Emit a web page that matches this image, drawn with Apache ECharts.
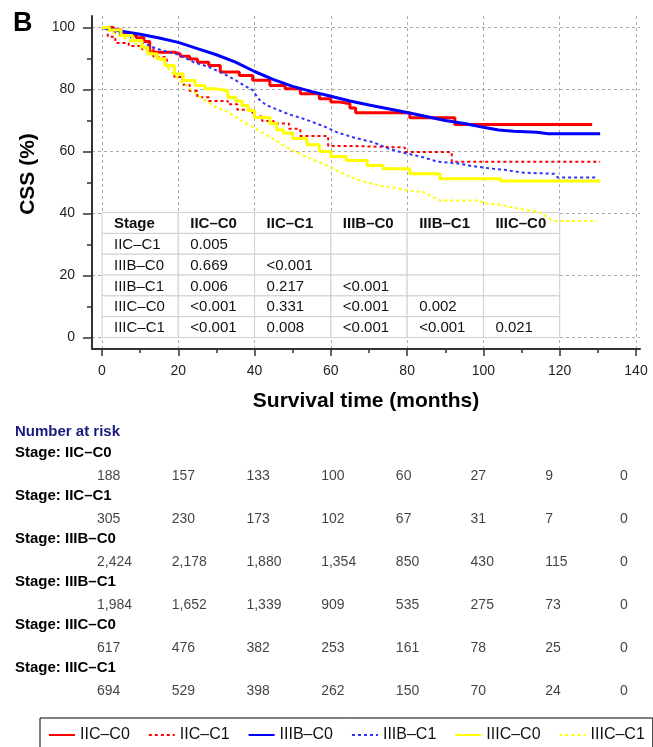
<!DOCTYPE html>
<html>
<head>
<meta charset="utf-8">
<script src="https://cdn.jsdelivr.net/npm/echarts@6/dist/echarts.min.js"></script>
<style>
  html, body { margin: 0; padding: 0; background: #fff; }
  #chart { width: 653px; height: 747px; }
</style>
</head>
<body>
<div id="chart"></div>
<script>
// ---- data ----
const stageNames = ['IIC–C0', 'IIC–C1', 'IIIB–C0', 'IIIB–C1', 'IIIC–C0', 'IIIC–C1']

// Kaplan-Meier curves, [months, CSS %]
const iicC0 = [[0,100],[3,99.3],[5,98.4],[7,97.5],[9,96.7],[11,95.5],[12.5,92],[19,91.5],[20.5,90.7],[23,89.8],[25,88.8],[28,87.7],[31,85.6],[36,84.5],[39.5,83],[44,81.3],[48,80.2],[52,78.6],[57,77],[60,76],[62,75.4],[65,74],[66.5,72.5],[80.7,70.9],[92.5,68.7],[128.5,68.7]]
const iicC1 = [[0,100],[1.5,97],[3.5,95],[7,94],[10.5,93],[13.5,90.5],[17,87.5],[19,84],[21,81.5],[23,79.5],[25,77.5],[28,76.3],[33,75.2],[35.5,73.5],[39.5,71.3],[42,69.8],[45,69],[49,67.3],[52,65],[59.3,61.8],[65,61.3],[79.4,59.8],[91.7,56.7],[130.6,56.7]]
const iiibC0 = [[0,100],[5,98.8],[10,97.8],[15,96.6],[20,95.2],[25,93.2],[30,91.2],[35,88.8],[40,85.8],[45,83.2],[50,81],[55,79.3],[60,77.8],[65,76.3],[70,75],[75,73.8],[80,72.6],[85,71.3],[90,70],[95,69],[100,67.8],[104,66.9],[108,66.5],[114,66.2],[117,65.7],[130.6,65.7]]
const iiibC1 = [[0,100],[3,98.5],[7,97],[10,95.5],[13,93.8],[16,92.5],[20,91.3],[24,88.8],[28,87.3],[32,85],[35,83],[37,81.5],[39.5,79.8],[41,77],[43,75],[45,74],[49,72],[53,70.5],[58,68.2],[62,66],[66,64.5],[71,63],[75,61],[78,59.9],[84,58.2],[88,56.7],[93,56.2],[97,55.3],[102,54.5],[106,54],[110,53.2],[118.5,52.8],[119.5,51.6],[129.7,51.6]]
const iiicC0 = [[0,100],[2,99.2],[5,97.4],[8,95.8],[10.5,93.6],[12,91.5],[14.5,89.9],[16.5,87.7],[19,85],[21.3,82.9],[24.4,81.3],[27,80.2],[30,79.6],[33,77.5],[35,76.3],[36.7,74.8],[38.3,73.2],[40,71],[44,69],[45.8,67],[47.5,66],[50,64.2],[53.7,62.2],[57,60],[60,58.4],[64,57.1],[69.5,55.5],[73.7,54.4],[80.7,52.8],[88.6,51.2],[104.5,50.5],[130.6,50.5]]
const iiicC1 = [[0,100],[3.4,98],[7,96],[11.3,93.1],[15.6,89.4],[19.1,84.5],[22.5,80.8],[26,77.3],[30,74.2],[33,72.8],[36.5,70],[40,67.5],[44.6,64.2],[49.5,60.6],[53.7,58.2],[58,56],[60.6,54.4],[64.2,52.3],[67.6,50.6],[72.9,49],[78,48],[80,47.4],[84.3,46.9],[88.6,44.2],[99,44.2],[100,43.3],[104,42.9],[109.6,41.5],[114.8,40.4],[118.3,37.6],[129.7,37.6]]

// axis ticks
const xTicks = [0, 20, 40, 60, 80, 100, 120, 140]
const xMinorTicks = [10, 30, 50, 70, 90, 110, 130]
const yTicks = [0, 20, 40, 60, 80, 100]
const yMinorTicks = [10, 30, 50, 70, 90]

// pairwise p-value table
const tableHeader = ['Stage', 'IIC–C0', 'IIC–C1', 'IIIB–C0', 'IIIB–C1', 'IIIC–C0']
const tableRows = ['IIC–C1', 'IIIB–C0', 'IIIB–C1', 'IIIC–C0', 'IIIC–C1']
const pValues = [
  ['0.005', '', '', '', ''],
  ['0.669', '<0.001', '', '', ''],
  ['0.006', '0.217', '<0.001', '', ''],
  ['<0.001', '0.331', '<0.001', '0.002', ''],
  ['<0.001', '0.008', '<0.001', '<0.001', '0.021']
]
const tableCols = [0, 20, 40, 60, 80, 100, 120]

// number at risk
const riskTimes = [0, 20, 40, 60, 80, 100, 120, 140]
const riskIicC0 = [188, 157, 133, 100, 60, 27, 9, 0]
const riskIicC1 = [305, 230, 173, 102, 67, 31, 7, 0]
const riskIiibC0 = [2424, 2178, 1880, 1354, 850, 430, 115, 0]
const riskIiibC1 = [1984, 1652, 1339, 909, 535, 275, 73, 0]
const riskIiicC0 = [617, 476, 382, 253, 161, 78, 25, 0]
const riskIiicC1 = [694, 529, 398, 262, 150, 70, 24, 0]

// ---- chart ----
const FONT = '"Liberation Sans", Arial, sans-serif'
const chart = echarts.init(document.getElementById('chart'))

const curves = [iicC0, iicC1, iiibC0, iiibC1, iiicC0, iiicC1]
const colors = ['#ff0000', '#ff0000', '#0000ff', '#3030ff', '#ffff00', '#ffff00']
const dotted = [false, true, false, true, false, true]
const stepped = [true, true, false, false, true, false]

const curveSeries = curves.map((pts, i) => ({
  name: stageNames[i],
  type: 'line',
  data: pts,
  step: stepped[i] ? 'end' : false,
  symbol: 'none',
  color: colors[i],
  lineStyle: {
    color: colors[i],
    width: dotted[i] ? 2 : 3,
    type: dotted[i] ? [3, 3] : 'solid'
  },
  z: 5,
  silent: true
}))

// table cells in data coords
const tableTop = 40.3
const rowH = 6.72
const cells = []
tableHeader.forEach((t, c) => cells.push({ col: c, row: 0, text: t, bold: true }))
tableRows.forEach((name, r) => {
  cells.push({ col: 0, row: r + 1, text: name, bold: false })
  pValues[r].forEach((v, c) => cells.push({ col: c + 1, row: r + 1, text: v, bold: false }))
})

const tableSeries = {
  name: 'table',
  type: 'custom',
  z: 3,
  silent: true,
  data: cells.map(c => [tableCols[c.col], tableTop - c.row * rowH]),
  renderItem: (params, api) => {
    const c = cells[params.dataIndex]
    const p0 = api.coord([tableCols[c.col], tableTop - c.row * rowH])
    const p1 = api.coord([tableCols[c.col + 1], tableTop - (c.row + 1) * rowH])
    return {
      type: 'group',
      children: [
        {
          type: 'rect',
          shape: { x: p0[0], y: p0[1], width: p1[0] - p0[0], height: p1[1] - p0[1] },
          style: { fill: '#fff', stroke: '#cfcfcf', lineWidth: 1 }
        },
        {
          type: 'text',
          style: {
            text: c.text,
            x: p0[0] + 12,
            y: (p0[1] + p1[1]) / 2 + 1,
            align: 'left',
            verticalAlign: 'middle',
            fontSize: 15,
            fontWeight: c.bold ? 'bold' : 'normal',
            fontFamily: FONT,
            fill: '#111'
          }
        }
      ]
    }
  }
}

// number-at-risk rows
const riskRows = [riskIicC0, riskIicC1, riskIiibC0, riskIiibC1, riskIiicC0, riskIiicC1]
const riskData = []
const riskText = []
riskRows.forEach((row, r) => {
  row.forEach((n, i) => {
    riskData.push([riskTimes[i], r])
    riskText.push(n.toLocaleString('en-US'))
  })
})
const riskSeries = {
  name: 'risk',
  type: 'scatter',
  xAxisIndex: 2,
  yAxisIndex: 2,
  symbolSize: 0,
  silent: true,
  data: riskData,
  label: {
    show: true,
    position: 'right',
    distance: 0,
    formatter: p => riskText[p.dataIndex],
    fontSize: 14,
    fontFamily: FONT,
    color: '#111'
  }
}

const graphics = [
  { type: 'text', left: 13, top: 10, style: { text: 'B', fontSize: 27, fontWeight: 'bold', fontFamily: FONT, fill: '#000' } },
  { type: 'text', x: 28, y: 174, rotation: Math.PI / 2,
    style: { text: 'CSS (%)', fontSize: 21, fontWeight: 'bold', fontFamily: FONT, fill: '#000', align: 'center', verticalAlign: 'middle' } },
  { type: 'text', x: 15, y: 432,
    style: { text: 'Number at risk', fontSize: 15, fontWeight: 'bold', fontFamily: FONT, fill: '#1a1a80', verticalAlign: 'middle' } }
]
stageNames.forEach((s, r) => {
  graphics.push({ type: 'text', x: 15, y: 453 + 43 * r,
    style: { text: 'Stage: ' + s, fontSize: 15, fontWeight: 'bold', fontFamily: FONT, fill: '#000', verticalAlign: 'middle' } })
})

const xRange = { min: -2.62, max: 141.05 }
const yRange = { min: -3.71, max: 103.7 }

const option = {
  backgroundColor: '#fff',
  animation: false,
  textStyle: { fontFamily: FONT },
  grid: [
    { left: 92, right: 13, top: 16, bottom: 398 },
    { left: 97, right: 33, top: 476, height: 215 }
  ],
  legend: {
    data: stageNames,
    left: 40,
    top: 718,
    padding: [9, 8, 30, 8],
    itemGap: 18,
    itemWidth: 26,
    itemHeight: 14,
    borderColor: '#000',
    borderWidth: 1,
    itemStyle: { color: 'transparent', borderWidth: 0, opacity: 0 },
    textStyle: { fontSize: 16, color: '#111', fontFamily: FONT }
  },
  xAxis: [
    {
      type: 'value', gridIndex: 0, position: 'bottom', ...xRange,
      name: 'Survival time (months)', nameLocation: 'middle', nameGap: 42,
      nameTextStyle: { fontSize: 21, fontWeight: 'bold', color: '#000', fontFamily: FONT },
      axisLine: { onZero: false, lineStyle: { color: '#333', width: 2 } },
      axisTick: { customValues: xTicks, length: 7, lineStyle: { color: '#333', width: 1.5 } },
      axisLabel: { customValues: xTicks, margin: 15, fontSize: 14, color: '#222', fontFamily: FONT },
      splitLine: { show: true, lineStyle: { color: '#aaa', type: [3, 3], width: 1 } }
    },
    {
      type: 'value', gridIndex: 0, position: 'bottom', ...xRange,
      axisLine: { show: false, onZero: false },
      axisTick: { customValues: xMinorTicks, length: 4, lineStyle: { color: '#333', width: 1.5 } },
      axisLabel: { show: false },
      splitLine: { show: false }
    },
    { type: 'value', gridIndex: 1, min: 0, max: 140, show: false }
  ],
  yAxis: [
    {
      type: 'value', gridIndex: 0, position: 'left', ...yRange,
      axisLine: { show: true, onZero: false, lineStyle: { color: '#333', width: 2 } },
      axisTick: { show: true, customValues: yTicks, length: 9, lineStyle: { color: '#333', width: 1.5 } },
      axisLabel: { customValues: yTicks, margin: 17, fontSize: 14, color: '#222', fontFamily: FONT },
      splitLine: { show: true, lineStyle: { color: '#aaa', type: [3, 3], width: 1 } }
    },
    {
      type: 'value', gridIndex: 0, position: 'left', ...yRange,
      axisLine: { show: false, onZero: false },
      axisTick: { show: true, customValues: yMinorTicks, length: 5, lineStyle: { color: '#333', width: 1.5 } },
      axisLabel: { show: false },
      splitLine: { show: false }
    },
    { type: 'value', gridIndex: 1, min: 0, max: 5, inverse: true, show: false }
  ],
  graphic: graphics,
  series: [tableSeries, ...curveSeries, riskSeries]
}

chart.setOption(option)
</script>
</body>
</html>
